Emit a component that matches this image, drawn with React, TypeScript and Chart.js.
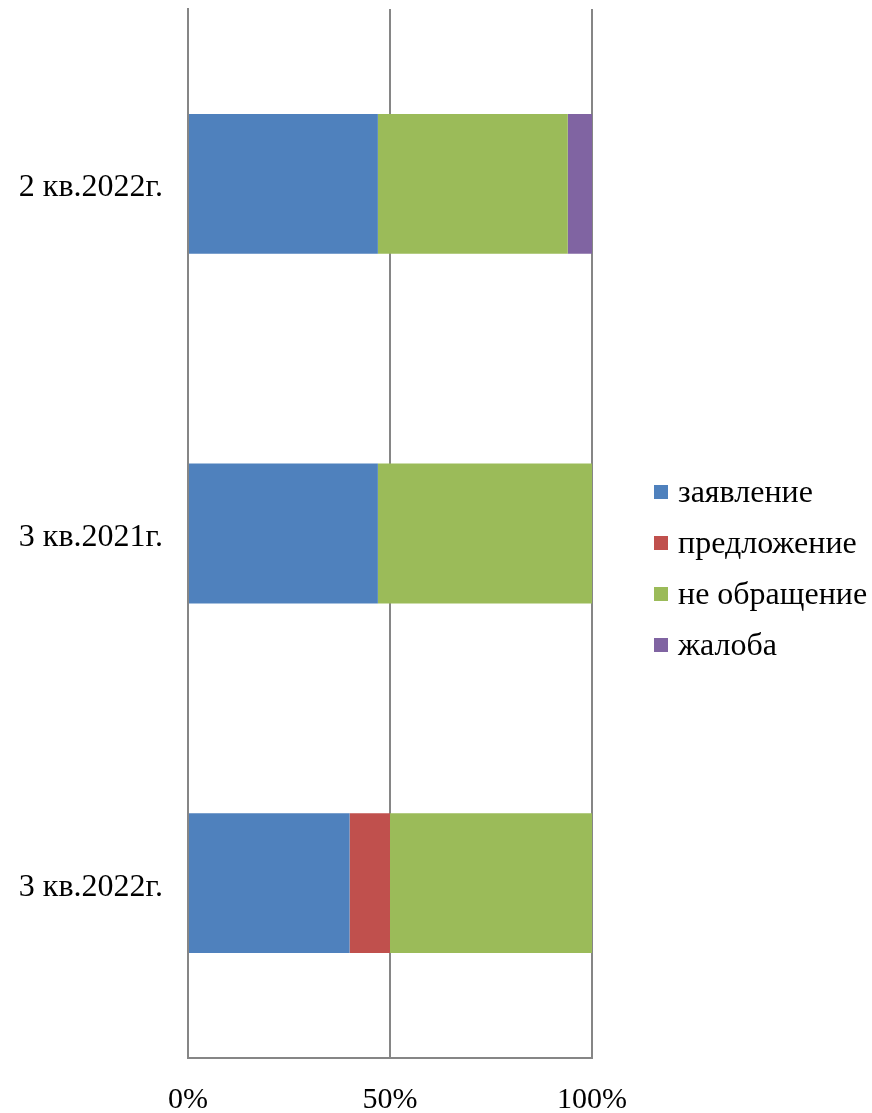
import React, { useEffect, useRef } from "react";
import { Chart, registerables } from "chart.js";

Chart.register(...registerables);

const categories = ["2 кв.2022г.", "3 кв.2021г.", "3 кв.2022г."];
const seriesNames = ["заявление", "предложение", "не обращение", "жалоба"];
const zayavlenie = [47, 47, 40];
const predlozhenie = [0, 0, 10];
const neObrashchenie = [47, 53, 50];
const zhaloba = [6, 0, 0];
const colors = ["#4F81BD", "#C0504D", "#9BBB59", "#8064A2"];
const xTicks = [0, 50, 100];

const FONT = "'Liberation Serif', 'Times New Roman', serif";
const FS = 32;
const FS_X = 30;

export default function App() {
  const ref = useRef<HTMLCanvasElement | null>(null);

  useEffect(() => {
    document.body.style.margin = "0";
    const values = [zayavlenie, predlozhenie, neObrashchenie, zhaloba];
    const chart = new Chart(ref.current as HTMLCanvasElement, {
      type: "bar",
      data: {
        labels: categories,
        datasets: seriesNames.map((name, i) => ({
          label: name,
          data: values[i],
          backgroundColor: colors[i],
          borderWidth: 0,
          barPercentage: 0.4,
          categoryPercentage: 1,
        })),
      },
      options: {
        indexAxis: "y",
        animation: false,
        responsive: false,
        maintainAspectRatio: false,
        layout: { padding: { top: 9, right: 280, left: 0, bottom: 0 } },
        plugins: { legend: { display: false }, tooltip: { enabled: false } },
        scales: {
          x: {
            stacked: true,
            min: 0,
            max: 100,
            afterBuildTicks: (scale: any) => {
              scale.ticks = xTicks.map((v) => ({ value: v }));
            },
            afterFit: (scale: any) => {
              scale.height = 55;
              scale.paddingLeft = 0;
              scale.paddingRight = 0;
            },
            grid: { color: "#868686", lineWidth: 2, drawTicks: false },
            border: { display: true, color: "#868686", width: 2 },
            ticks: {
              padding: 24,
              color: "#000",
              font: { family: FONT, size: FS_X },
              callback: (v: any) => v + "%",
            },
          },
          y: {
            stacked: true,
            afterFit: (scale: any) => {
              scale.width = 188;
              scale.paddingTop = 0;
              scale.paddingBottom = 0;
            },
            grid: { display: false, drawTicks: false },
            border: { display: true, color: "#868686", width: 2 },
            ticks: {
              padding: 25,
              labelOffset: 4,
              color: "#000",
              font: { family: FONT, size: FS },
            },
          },
        },
      },
    });
    return () => chart.destroy();
  }, []);

  return (
    <div style={{ position: "relative", width: 872, height: 1113, background: "#fff" }}>
      <canvas ref={ref} width={872} height={1113} style={{ display: "block" }} />
      <div
        style={{
          position: "absolute",
          left: 654,
          top: 466,
          fontFamily: FONT,
          fontSize: FS,
          color: "#000",
          lineHeight: "51px",
        }}
      >
        {seriesNames.map((name, i) => (
          <div key={name} style={{ display: "flex", alignItems: "center", whiteSpace: "nowrap" }}>
            <span
              style={{ width: 14, height: 14, background: colors[i], display: "inline-block", marginRight: 10, flex: "none" }}
            />
            <span>{name}</span>
          </div>
        ))}
      </div>
    </div>
  );
}
